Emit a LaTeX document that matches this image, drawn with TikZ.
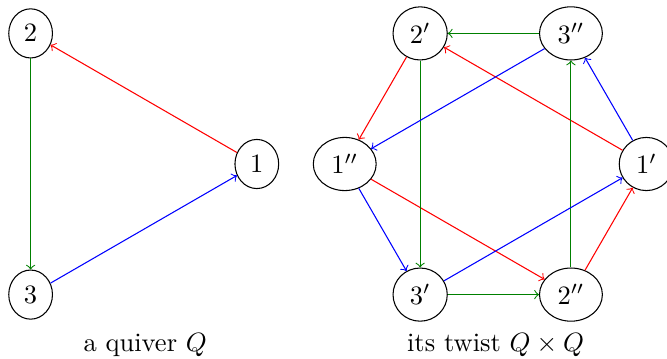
\documentclass[tikz,border=0pt]{standalone}
\usetikzlibrary{shapes.geometric}
\begin{document}
\begin{tikzpicture}[
  vtx/.style={draw, ellipse},
  r/.style={->, red},
  g/.style={->, green!50!black},
  b/.style={->, blue}]
\useasboundingbox (-1.406,-2.573) rectangle (7.440,2.175);
% left triangle
\node[vtx] (n1) at (0:2) {$1$};
\node[vtx] (n2) at (120:2) {$2$};
\node[vtx] (n3) at (240:2) {$3$};
\draw[r] (n1) -- (n2);
\draw[g] (n2) -- (n3);
\draw[b] (n3) -- (n1);
\node[anchor=base] (c1) at (0.52,-2.49) {a quiver $Q$};
% right hexagon
\begin{scope}[shift={(5.166,0)}]
\node[vtx] (p1) at (0:2) {$1'$};
\node[vtx] (q3) at (60:2) {$3''$};
\node[vtx] (p2) at (120:2) {$2'$};
\node[vtx] (q1) at (180:2) {$1''$};
\node[vtx] (p3) at (240:2) {$3'$};
\node[vtx] (q2) at (300:2) {$2''$};
\node[anchor=base] (c2) at (0,-2.49) {its twist $Q\times Q$};
\end{scope}
\draw[r] (p1) -- (p2);
\draw[r] (p2) -- (q1);
\draw[r] (q1) -- (q2);
\draw[r] (q2) -- (p1);
\draw[g] (q3) -- (p2);
\draw[g] (p2) -- (p3);
\draw[g] (p3) -- (q2);
\draw[g] (q2) -- (q3);
\draw[b] (q3) -- (q1);
\draw[b] (q1) -- (p3);
\draw[b] (p3) -- (p1);
\draw[b] (p1) -- (q3);
\end{tikzpicture}
\end{document}
